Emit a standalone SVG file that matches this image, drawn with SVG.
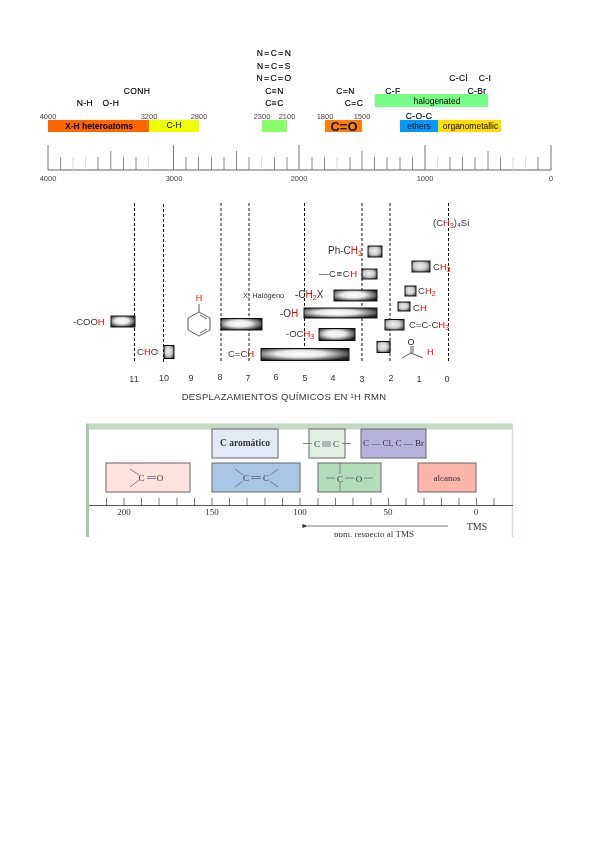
<svg xmlns="http://www.w3.org/2000/svg" width="599" height="848" viewBox="0 0 599 848">
<style>
text{font-family:"Liberation Sans",Arial,sans-serif;fill:#222}
.s{font-size:8.5px;text-anchor:middle;fill:#000;letter-spacing:.4px;stroke:#000;stroke-width:.15px}
.w{letter-spacing:1.4px}
.n{font-size:7.5px;text-anchor:middle;fill:#444}
.b{font-size:8.5px;text-anchor:middle;fill:#000}
.l{font-size:9.5px;fill:#333}
.r{fill:#f00}
.dash{stroke:#111;stroke-width:1;stroke-dasharray:3 2;fill:none}
.bar{fill:url(#g);stroke:#111;stroke-width:1}
.bar2{fill:url(#g2);stroke:#111;stroke-width:1}
.sf{font-family:"Liberation Serif",serif;fill:#333;text-anchor:middle}
.box{stroke:#666;stroke-width:1}
.mol{stroke:#667;stroke-width:.8;fill:none}
</style>
<defs>
<radialGradient id="g" cx=".45" cy=".45" r=".62"><stop offset="0" stop-color="#fff"/><stop offset=".45" stop-color="#e8e8e8"/><stop offset="1" stop-color="#222"/></radialGradient>
<radialGradient id="g2" cx=".45" cy=".45" r=".7"><stop offset="0" stop-color="#eee"/><stop offset=".5" stop-color="#ccc"/><stop offset="1" stop-color="#333"/></radialGradient>
<filter id="soft" x="-5%" y="-5%" width="110%" height="110%"><feGaussianBlur stdDeviation="0.4"/></filter>
<filter id="soft2" x="-5%" y="-5%" width="110%" height="110%"><feGaussianBlur stdDeviation="0.55"/></filter>
<clipPath id="panel"><rect x="80" y="415" width="440" height="122"/></clipPath>
<marker id="ah" markerWidth="7" markerHeight="5" refX="0" refY="2.5" orient="auto-start-reverse"><path d="M7 0L0 2.5L7 5z" fill="#333"/></marker>
</defs>
<rect width="599" height="848" fill="#fff"/>

<g id="ir-chart" filter="url(#soft)">
<g id="ir-bands">
<rect x="48" y="120" width="101" height="12" fill="#ff6600"/>
<rect x="149" y="120" width="50" height="12" fill="#eeff00"/>
<rect x="262" y="120" width="25" height="12" fill="#88ff66"/>
<rect x="325" y="120" width="37" height="12" fill="#ff8000"/>
<rect x="375" y="94" width="113" height="13" fill="#77ff88"/>
<rect x="400" y="120" width="38" height="12" fill="#0099ff"/>
<rect x="438" y="120" width="63" height="12" fill="#ffdd00"/>
<text class="b" x="99" y="129" style="font-weight:bold;font-size:8.500px">X-H heteroatoms</text>
<text class="b" x="174" y="128">C-H</text>
<text x="344" y="130.500" style="font-size:13px;font-weight:bold;text-anchor:middle;fill:#111">C=O</text>
<text class="b" x="437" y="104">halogenated</text>
<text class="b" x="419" y="129">ethers</text>
<text class="b" x="470.500" y="129">organometallic</text>
</g>
<g id="ir-labels">
<text class="s w" x="274.500" y="56">N=C=N</text>
<text class="s w" x="274.500" y="69">N=C=S</text>
<text class="s w" x="274.500" y="81">N=C=O</text>
<text class="s" x="274.500" y="94">C≡N</text>
<text class="s" x="274.500" y="106">C≡C</text>
<text class="s" x="137" y="94">CONH</text>
<text class="s" x="85" y="106">N-H</text>
<text class="s" x="111" y="106">O-H</text>
<text class="s" x="345.500" y="94">C=N</text>
<text class="s" x="354" y="106">C=C</text>
<text class="s" x="393" y="94">C-F</text>
<text class="s" x="458.500" y="81">C-Cl</text>
<text class="s" x="485" y="81">C-I</text>
<text class="s" x="477" y="94">C-Br</text>
<text class="s" x="419" y="119">C-O-C</text>
<text class="n" x="48" y="118.500">4000</text>
<text class="n" x="149" y="118.500">3200</text>
<text class="n" x="199" y="118.500">2800</text>
<text class="n" x="262" y="118.500">2300</text>
<text class="n" x="287" y="118.500">2100</text>
<text class="n" x="325" y="118.500">1800</text>
<text class="n" x="362" y="118.500">1500</text>
</g>
<g id="ir-axis" fill="none">
<path d="M48 170H551" stroke="#999" stroke-width="1.4"/>
<path d="M48 145V170M173.500 145V170M299 145V170M425 145V170M551 145V170" stroke="#777" stroke-width="1"/>
<path d="M110.800 151V170M236.500 151V170M362 151V170M488 151V170" stroke="#888" stroke-width="1"/>
<path d="M60.600 157V170M98 157V170M123.500 157V170M136 157V170M186 157V170M198.500 157V170M211.500 157V170M224 157V170M249 157V170M274.500 157V170M287 157V170M312 157V170M324.500 157V170M350 157V170M374.500 157V170M387 157V170M400 157V170M412.500 157V170M450 157V170M462.500 157V170M475 157V170M500.500 157V170M538 157V170" stroke="#888" stroke-width="1"/>
<path d="M73 157V170M85.500 157V170M148.500 157V170M261.500 157V170M337 157V170M437.500 157V170M513 157V170M525.500 157V170" stroke="#ddd" stroke-width="1"/>
</g>
<g id="ir-numbers">
<text class="n" x="48" y="181">4000</text>
<text class="n" x="174" y="181">3000</text>
<text class="n" x="299" y="181">2000</text>
<text class="n" x="425" y="181">1000</text>
<text class="n" x="551" y="181">0</text>
</g>
</g>

<g id="nmr-chart" filter="url(#soft)">
<g id="nmr-guides">
<path class="dash" d="M134.500 203V363M163.500 204V364M221 203V363M249 203V363M304.500 203V363M362 203V363M390 203V363M448.500 203V363"/>
</g>
<g id="nmr-bars">
<rect class="bar" x="111" y="316" width="24" height="11"/>
<rect class="bar2" x="164" y="345.500" width="10" height="13"/>
<rect class="bar" x="221" y="318.500" width="41" height="11.500"/>
<rect class="bar" x="261" y="348.500" width="88" height="12"/>
<rect class="bar2" x="368" y="246" width="14" height="11"/>
<rect class="bar2" x="362" y="269" width="15" height="10"/>
<rect class="bar" x="334" y="290" width="43" height="11"/>
<rect class="bar" x="304" y="308" width="73" height="10"/>
<rect class="bar" x="319" y="328.500" width="36" height="12"/>
<rect class="bar2" x="412" y="261" width="18" height="11"/>
<rect class="bar2" x="405" y="286" width="11" height="10"/>
<rect class="bar2" x="398" y="302" width="12" height="9"/>
<rect class="bar2" x="385" y="319.500" width="19" height="10.500"/>
<rect class="bar2" x="377" y="341.500" width="13" height="11"/>
</g>
<g id="nmr-labels">
<text class="l" x="73" y="325">-COO<tspan class="r">H</tspan></text>
<text class="l" x="137" y="355">C<tspan class="r">H</tspan>O</text>
<text class="l" x="228" y="357">C=C<tspan class="r">H</tspan></text>
<text class="l" x="243" y="298" style="font-size:7.5px">X: Halógeno</text>
<text class="l" x="295" y="298" style="font-size:10px">-C<tspan class="r">H</tspan><tspan class="r" dy="2" style="font-size:7px">2</tspan><tspan dy="-2">X</tspan></text>
<text class="l" x="280" y="317" style="font-size:10px">-O<tspan class="r">H</tspan></text>
<text class="l" x="286" y="337">-OC<tspan class="r">H</tspan><tspan class="r" dy="2" style="font-size:7px">3</tspan></text>
<text class="l" x="328" y="254" style="font-size:10px">Ph-C<tspan class="r">H</tspan><tspan class="r" dy="2" style="font-size:7px">3</tspan></text>
<text class="l" x="319" y="277" style="letter-spacing:.6px">—C≡C<tspan class="r">H</tspan></text>
<text class="l" x="433" y="226">(C<tspan class="r">H</tspan><tspan class="r" dy="2" style="font-size:7px">3</tspan><tspan dy="-2">)₄Si</tspan></text>
<text class="l" x="433" y="270">C<tspan class="r">H</tspan><tspan class="r" dy="2" style="font-size:7px">3</tspan></text>
<text class="l" x="418" y="294">C<tspan class="r">H</tspan><tspan class="r" dy="2" style="font-size:7px">2</tspan></text>
<text class="l" x="413" y="311">C<tspan class="r">H</tspan></text>
<text class="l" x="409" y="328">C=C-C<tspan class="r">H</tspan><tspan class="r" dy="2" style="font-size:7px">3</tspan></text>
</g>
<g id="benzene">
<path d="M199 304V312L188 318V330L199 336L210 330V318L199 312" fill="none" stroke="#333" stroke-width=".8"/>
<path d="M200 315L207 319M207 329L200 333" fill="none" stroke="#333" stroke-width=".8"/>
<text x="199" y="301" class="r" style="font-size:9px;text-anchor:middle;fill:#f00">H</text>
</g>
<g id="aldehyde">
<path d="M402 358L411 353L423 358M411 353V346M413 353V346" fill="none" stroke="#333" stroke-width=".8"/>
<text x="411" y="345" style="font-size:9px;text-anchor:middle">O</text>
<text x="427" y="355" style="font-size:9px;fill:#f00">H</text>
</g>
<g id="nmr-scale" style="font-size:9px;text-anchor:middle">
<text x="134" y="382" style="fill:#333">11</text>
<text x="164" y="381" style="fill:#333">10</text>
<text x="191" y="381" style="fill:#333">9</text>
<text x="220" y="380" style="fill:#333">8</text>
<text x="248" y="381" style="fill:#333">7</text>
<text x="276" y="380" style="fill:#333">6</text>
<text x="305" y="381" style="fill:#333">5</text>
<text x="333" y="381" style="fill:#333">4</text>
<text x="362" y="382" style="fill:#333">3</text>
<text x="391" y="381" style="fill:#333">2</text>
<text x="419" y="382" style="fill:#333">1</text>
<text x="447" y="382" style="fill:#333">0</text>
<text x="284" y="400" style="fill:#333;font-size:9.500px;letter-spacing:.25px">DESPLAZAMIENTOS QUÍMICOS  EN ¹H RMN</text>
</g>
</g>

<g id="cmr-chart" clip-path="url(#panel)">
<g filter="url(#soft2)">
<rect id="cmr-frame" x="87" y="424" width="426" height="120" fill="#fff"/>
<path d="M86 426.500H513" stroke="#c4d8c4" stroke-width="6" fill="none"/>
<path d="M87.500 424V544" stroke="#a9c9aa" stroke-width="3" fill="none"/>
<path d="M512.500 424V544" stroke="#cfe0cf" stroke-width="1.500" fill="none"/>
<g id="c-carbonyl"><rect class="box" x="106" y="463" width="84" height="29" fill="#fde3dc"/>
<path class="mol" d="M130 469L139 475M130 487L139 480M147 476.500H156M147 478.500H156"/><text class="sf" x="141.500" y="481" style="font-size:9px">C</text><text class="sf" x="160" y="481" style="font-size:9px">O</text></g>
<g id="c-aromatic"><rect class="box" x="212" y="429" width="66" height="29" fill="#e3eaf6"/><text class="sf" x="245" y="446" style="font-size:9.500px;font-weight:bold">C aromático</text></g>
<g id="c-alkene"><rect class="box" x="212" y="463" width="88" height="29" fill="#a9c6e6"/>
<path class="mol" d="M235 469L243 475M235 487L243 481M251 476.500H261M251 478.500H261M270 475L278 469M270 481L278 487"/><text class="sf" x="246" y="481" style="font-size:9px">C</text><text class="sf" x="266" y="481" style="font-size:9px">C</text></g>
<g id="c-alkyne"><rect class="box" x="309" y="429" width="36" height="29" fill="#e2efe4"/>
<path class="mol" d="M303 443.500H312M322 442H331M322 444H331M322 446H331M342 443.500H351"/><text class="sf" x="317" y="447" style="font-size:9px">C</text><text class="sf" x="336" y="447" style="font-size:9px">C</text></g>
<g id="c-halide"><rect class="box" x="361" y="429" width="65" height="29" fill="#b5b2dc"/><text class="sf" x="393.500" y="446" style="font-size:9px">C — Cl, C — Br</text></g>
<g id="c-ether"><rect class="box" x="318" y="463" width="63" height="29" fill="#b3dcb8"/>
<path class="mol" d="M326 478H335M340 463V474M340 482V492M345 478H354M364 478H373"/><text class="sf" x="340" y="481.500" style="font-size:9px">C</text><text class="sf" x="359" y="481.500" style="font-size:9px">O</text></g>
<g id="c-alkane"><rect class="box" x="418" y="463" width="58" height="29" fill="#fbb5ab"/><text class="sf" x="447" y="481" style="font-size:9px">alcanos</text></g>
<g id="c-axis" fill="none" stroke="#555" stroke-width=".8">
<path d="M89 505.500H513" stroke-width="1"/>
<path d="M106.500 498V505M124 498V505M141.500 498V505M159 498V505M177 498V505M194.500 498V505M212 498V505M229.500 498V505M247 498V505M265 498V505M282.500 498V505M300 498V505M318 498V505M335.500 498V505M353 498V505M371 498V505M388.500 498V505M406 498V505M424 498V505M441.500 498V505M459 498V505M476.500 498V505M494 498V505"/>
<path d="M448 526H308" marker-end="url(#ah)"/>
</g>
<g id="c-text" style="font-size:9px">
<text class="sf" x="124" y="515">200</text><text class="sf" x="212" y="515">150</text><text class="sf" x="300" y="515">100</text><text class="sf" x="388" y="515">50</text><text class="sf" x="476" y="515">0</text>
<text class="sf" x="477" y="530" style="font-size:10px">TMS</text>
<text class="sf" x="374" y="537">ppm. respecto al TMS</text>
</g>
</g>
</g>
</svg>
